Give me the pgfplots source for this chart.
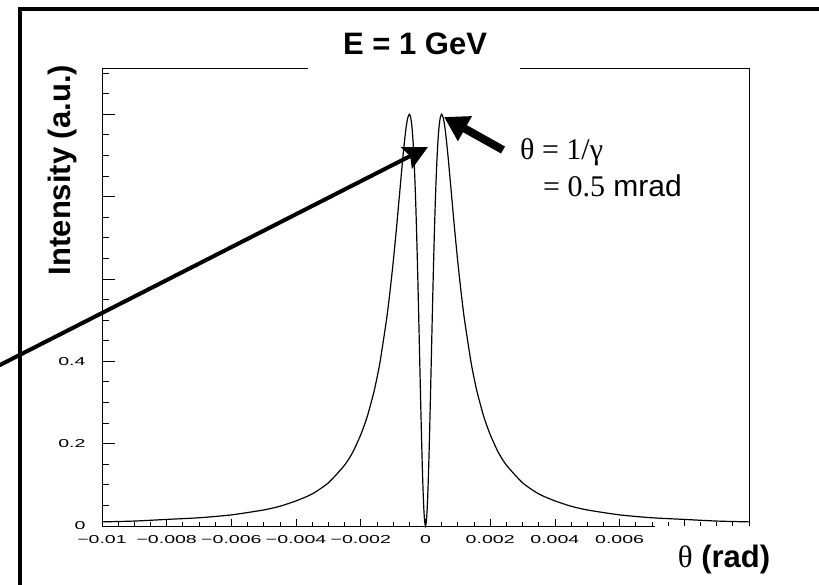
\documentclass[border=0pt]{standalone}
\usepackage{pgfplots}
\pgfplotsset{compat=1.18}
\usepackage{pgfplotstable}
\usepackage{fontspec}
\usetikzlibrary{arrows.meta}
\setmainfont{Liberation Sans}
\newfontfamily\tickfont{Liberation Sans}[FakeStretch=1.7]
\newfontfamily\seriffont{Liberation Serif}

% angular distribution of the radiated intensity, normalised to the peak
\pgfplotstableread{
theta      I
-0.01000   0.010
-0.00900   0.012
-0.00800   0.016
-0.00700   0.020
-0.00600   0.027
-0.00500   0.039
-0.00450   0.048
-0.00400   0.061
-0.00350   0.078
-0.00300   0.105
-0.00250   0.148
-0.00225   0.179
-0.00200   0.222
-0.00180   0.266
-0.00160   0.324
-0.00150   0.360
-0.00140   0.401
-0.00120   0.504
-0.00110   0.568
-0.00100   0.640
-0.00090   0.721
-0.00080   0.808
-0.00070   0.895
-0.00065   0.934
-0.00060   0.968
-0.00055   0.991
-0.000500  1.000
-0.000475  0.997
-0.000450  0.989
-0.000425  0.974
-0.000400  0.952
-0.000375  0.922
-0.000350  0.883
-0.000325  0.835
-0.000300  0.779
-0.000275  0.713
-0.000250  0.640
-0.000225  0.560
-0.000200  0.476
-0.000175  0.389
-0.000150  0.303
-0.000125  0.222
-0.000100  0.148
-0.000075  0.086
-0.000050  0.039
-0.000025  0.010
 0.000000  0.000
 0.000025  0.010
 0.000050  0.039
 0.000075  0.086
 0.000100  0.148
 0.000125  0.222
 0.000150  0.303
 0.000175  0.389
 0.000200  0.476
 0.000225  0.560
 0.000250  0.640
 0.000275  0.713
 0.000300  0.779
 0.000325  0.835
 0.000350  0.883
 0.000375  0.922
 0.000400  0.952
 0.000425  0.974
 0.000450  0.989
 0.000475  0.997
 0.000500  1.000
 0.00055   0.991
 0.00060   0.968
 0.00065   0.934
 0.00070   0.895
 0.00080   0.808
 0.00090   0.721
 0.00100   0.640
 0.00110   0.568
 0.00120   0.504
 0.00140   0.401
 0.00150   0.360
 0.00160   0.324
 0.00180   0.266
 0.00200   0.222
 0.00225   0.179
 0.00250   0.148
 0.00300   0.105
 0.00350   0.078
 0.00400   0.061
 0.00450   0.048
 0.00500   0.039
 0.00600   0.027
 0.00700   0.020
 0.00800   0.016
 0.00900   0.012
 0.01000   0.010
}\profile

\begin{document}
\begin{tikzpicture}[x=1pt,y=1pt]
\useasboundingbox (0,0) rectangle (819,584);

% x axis: ticks, labels and the curve
\begin{axis}[
  at={(102pt,58pt)}, anchor=south west,
  scale only axis, width=647pt, height=457pt,
  xmin=-0.01, xmax=0.01, ymin=0, ymax=1.11,
  axis line style={draw=none},
  tick align=inside, xtick pos=left,
  ytick=\empty,
  xtick={-0.01,-0.008,-0.006,-0.004,-0.002,0,0.002,0.004,0.006,0.008,0.01},
  xticklabels={−0.01,−0.008,−0.006,−0.004,−0.002,0,0.002,0.004,0.006,{},{}},
  scaled x ticks=false,
  minor x tick num=3,
  major tick length=7pt, minor tick length=4pt,
  every tick/.style={black, line width=0.8pt},
  xticklabel style={font=\tickfont\fontsize{11.5}{11.5}\selectfont, yshift=-6pt},
  clip=false,
]
\addplot[black, line width=1.2pt, smooth, tension=0.4] table[x=theta, y=I] {\profile};
\end{axis}

% y axis ticks and labels
\begin{axis}[
  at={(102pt,58pt)}, anchor=south west,
  scale only axis, width=647pt, height=457pt,
  xmin=-0.01, xmax=0.01, ymin=0, ymax=1.11,
  axis line style={draw=none},
  tick align=inside, ytick pos=left,
  xtick=\empty,
  ytick={0,0.2,0.4,0.6,0.8,1.0},
  yticklabels={0,0.2,0.4,{},{},{}},
  minor ytick={0.05,0.1,0.15,0.25,0.3,0.35,0.45,0.5,0.55,0.65,0.7,0.75,0.85,0.9,0.95,1.05,1.1},
  major tick length=13pt, minor tick length=7pt,
  every tick/.style={black, line width=0.8pt},
  yticklabel style={font=\tickfont\fontsize{11.5}{11.5}\selectfont, xshift=-13pt},
]
\end{axis}

% axis frame, broken under the title and the x label
\draw[black, line width=1pt] (102,515) -- (102,58) -- (655,58);
\draw[black, line width=1pt] (102,515) -- (308,515);
\draw[black, line width=1pt] (520,515) -- (749,515) -- (749,58);

% outer frame
\draw[black, line width=4pt] (20,-10) -- (20,575) -- (830,575);

% titles
\node[anchor=base, inner sep=0] at (415,529) {\fontsize{31}{31}\selectfont\bfseries E = 1 GeV};
\node[anchor=base, inner sep=0, rotate=90] at (70,414) {\fontsize{31}{31}\selectfont\bfseries Intensity (a.u.)};
\node[anchor=base, inner sep=0] at (724,17) {\fontsize{31}{31}\selectfont{\seriffont θ} \bfseries (rad)};

% annotation
\node[anchor=base west, inner sep=0] at (520,424) {\seriffont\fontsize{30}{30}\selectfont θ = 1/γ};
\node[anchor=base west, inner sep=0] at (543,387) {\fontsize{30}{30}\selectfont{\seriffont = 0.5} mrad};

\draw[black, line width=4pt, -{Stealth[length=24pt, width=24pt, inset=4pt]}] (-2,218) -- (428,437);
\draw[black, line width=8pt, -{Triangle[length=24pt, width=27pt]}] (503,434) -- (444,467);
\end{tikzpicture}
\end{document}
